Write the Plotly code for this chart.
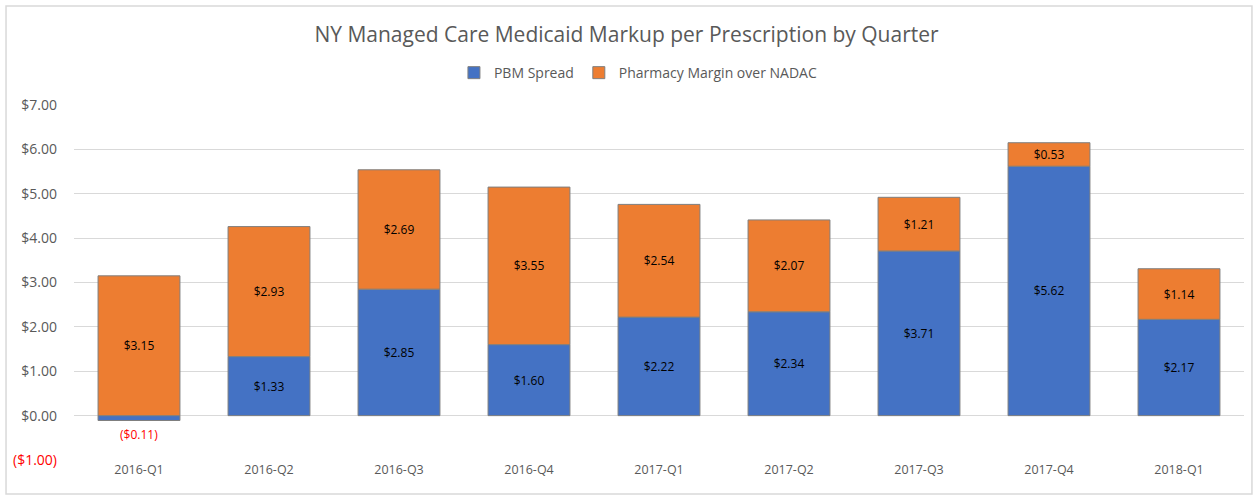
import plotly.graph_objects as go

quarters = ["2016-Q1", "2016-Q2", "2016-Q3", "2016-Q4", "2017-Q1", "2017-Q2", "2017-Q3", "2017-Q4", "2018-Q1"]
pbm_spread = [-0.11, 1.33, 2.85, 1.60, 2.22, 2.34, 3.71, 5.62, 2.17]
pharmacy_margin = [3.15, 2.93, 2.69, 3.55, 2.54, 2.07, 1.21, 0.53, 1.14]
tick_vals = [-1, 0, 1, 2, 3, 4, 5, 6, 7]


def money(v):
    return f"(${abs(v):.2f})" if v < 0 else f"${v:.2f}"


def tick_label(v):
    s = money(v)
    return f"<span style='color:#ff0000'>{s}</span>" if v < 0 else s


BLUE = "#4472c4"
ORANGE = "#ed7d31"
FONT = "Open Sans, Liberation Sans, sans-serif"

fig = go.Figure()
fig.add_trace(go.Bar(
    name="PBM Spread", x=quarters, y=pbm_spread,
    marker=dict(color=BLUE, line=dict(color="#7f7f7f", width=1)),
    text=[money(v) if v >= 0 else "" for v in pbm_spread],
    textposition="inside", insidetextanchor="middle",
    textfont=dict(color="#000000", size=12, family=FONT),
    width=0.63,
))
fig.add_trace(go.Bar(
    name="Pharmacy Margin over NADAC", x=quarters, y=pharmacy_margin,
    marker=dict(color=ORANGE, line=dict(color="#7f7f7f", width=1)),
    text=[money(v) for v in pharmacy_margin],
    textposition="inside", insidetextanchor="middle",
    textfont=dict(color="#000000", size=12, family=FONT),
    width=0.63,
))

for q, v in zip(quarters, pbm_spread):
    if v < 0:
        fig.add_annotation(x=q, y=v, text=money(v), showarrow=False,
                           yanchor="top", yshift=-3,
                           font=dict(color="#ff0000", size=12, family=FONT))

fig.add_shape(type="rect", xref="paper", yref="paper",
              x0=-0.0581, x1=1.0068, y0=-0.0958, y1=1.2789,
              line=dict(color="#d9d9d9", width=1.5), fillcolor="rgba(0,0,0,0)", layer="below")

fig.update_layout(
    width=1253, height=495,
    margin=dict(l=74, r=9, t=105, b=35),
    paper_bgcolor="white", plot_bgcolor="white",
    barmode="relative",
    bargap=0.37,
    hovermode=False,
    title=dict(text="NY Managed Care Medicaid Markup per Prescription by Quarter",
               x=0.5, xanchor="center", y=0.93, yanchor="middle",
               font=dict(size=21, color="#595959", family=FONT)),
    legend=dict(orientation="h", x=0.482, xanchor="center", y=1.09, yanchor="middle",
                font=dict(size=14, color="#595959", family=FONT),
                itemwidth=30, traceorder="normal"),
    showlegend=True,
    font=dict(family=FONT, color="#595959"),
    uniformtext=dict(mode="show", minsize=8),
)
fig.update_xaxes(showgrid=False, showline=False, ticks="",
                 tickfont=dict(size=12.5, color="#595959", family=FONT))
fig.update_yaxes(range=[-1, 7], tickvals=tick_vals,
                 ticktext=[tick_label(v) for v in tick_vals],
                 showgrid=True, gridcolor="#d9d9d9", gridwidth=1,
                 zeroline=True, zerolinecolor="#d9d9d9", zerolinewidth=1,
                 showline=False, ticks="", ticklabelstandoff=16,
                 tickfont=dict(size=14, color="#595959", family=FONT))

fig.write_html("out.html", config={"displayModeBar": False},
               post_script="document.body.style.margin='0';document.body.style.overflow='hidden';")
